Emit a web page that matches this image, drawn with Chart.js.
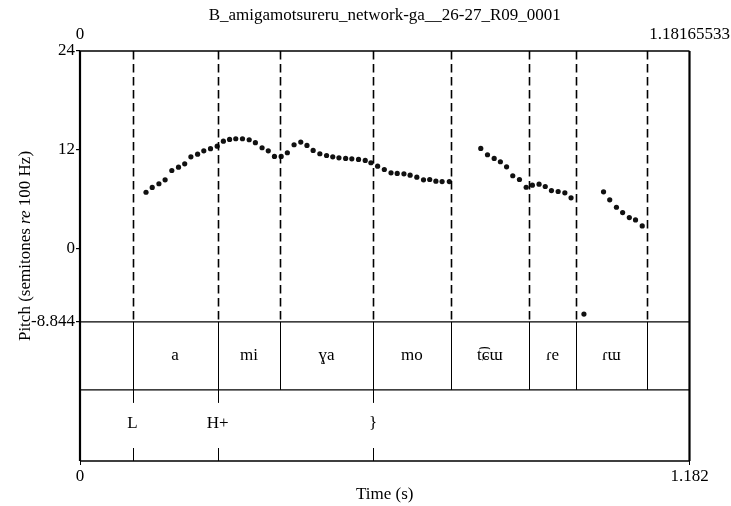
<!DOCTYPE html>
<html>
<head>
<meta charset="utf-8">
<script src="https://cdn.jsdelivr.net/npm/chart.js@4.4.0/dist/chart.umd.min.js"></script>
<style>
  html, body { margin: 0; padding: 0; background: #fff; }
</style>
</head>
<body>
<canvas id="pitch" width="731" height="506"></canvas>
<script>
const chartTitle = "B_amigamotsureru_network-ga__26-27_R09_0001"
const tEnd = 1.18165533

// pitch track (s, semitones re 100 Hz)
const pitchTimes = [
  0.128, 0.140, 0.153, 0.165, 0.178, 0.191, 0.203, 0.215, 0.228, 0.240, 0.253, 0.266,
  0.278, 0.290, 0.302, 0.315, 0.328, 0.340, 0.353, 0.365, 0.377, 0.390, 0.402,
  0.415, 0.428, 0.440, 0.452, 0.465, 0.478, 0.490, 0.502, 0.515, 0.527, 0.540, 0.553,
  0.564, 0.577, 0.590, 0.603, 0.615, 0.628, 0.640, 0.653, 0.666, 0.678, 0.690, 0.702, 0.716,
  0.777, 0.790, 0.803, 0.815, 0.827, 0.839, 0.852, 0.865, 0.877, 0.890, 0.902, 0.914,
  0.927, 0.940, 0.952, 0.977,
  1.015, 1.027, 1.040, 1.052, 1.065, 1.077, 1.090
]
const pitchValues = [
  6.87, 7.45, 7.90, 8.38, 9.51, 9.91, 10.32, 11.17, 11.49, 11.90, 12.15, 12.46,
  13.07, 13.28, 13.36, 13.36, 13.24, 12.88, 12.27, 11.90, 11.21, 11.21, 11.66,
  12.63, 12.95, 12.55, 11.94, 11.54, 11.33, 11.17, 11.05, 10.97, 10.93, 10.85, 10.73,
  10.45, 10.03, 9.63, 9.23, 9.15, 9.11, 8.94, 8.70, 8.38, 8.42, 8.21, 8.17, 8.17,
  12.18, 11.42, 10.97, 10.57, 9.96, 8.87, 8.42, 7.48, 7.73, 7.85, 7.57, 7.08,
  6.96, 6.80, 6.19, -7.90,
  6.92, 5.95, 5.05, 4.41, 3.80, 3.52, 2.79
]

const yTicks = [24, 12, 0, -8.844]
const yTickLabels = ["24", "12", "0", "-8.844"]
const xTopLabels = ["0", "1.18165533"]
const xBottomLabels = ["0", "1.182"]

// text grid
const tier1Bounds = [0.1018, 0.2670, 0.3883, 0.5680, 0.7187, 0.8705, 0.9616, 1.0987]
const tier1Labels = ["", "a", "mi", "ɣa", "mo", "t͡ɕɯ", "ɾe", "ɾɯ", ""]
const tier2Times = [0.1018, 0.2670, 0.5680]
const tier2Labels = ["L", "H+", "}"]

// vertical extent of the pitch panel and the two tiers, in y-scale units
const pitchMax = 24
const pitchMin = -8.844
const tierLine = -17.1
const gridBottom = -25.72

const serif = "'Liberation Serif', 'DejaVu Serif', 'Times New Roman', serif"
Chart.defaults.font.family = serif
Chart.defaults.font.size = 17
Chart.defaults.color = "#000"

const textGrid = {
  id: "textGrid",
  afterDatasetsDraw(chart) {
    const { ctx, chartArea: a, scales } = chart
    const x = scales.x, y = scales.y
    const yPitch = y.getPixelForValue(pitchMin)
    const yTier = y.getPixelForValue(tierLine)
    const yBot = y.getPixelForValue(gridBottom)
    ctx.save()
    ctx.strokeStyle = "#000"

    // dashed boundaries over the pitch panel
    ctx.lineWidth = 1.6
    ctx.setLineDash([8.5, 4.5])
    tier1Bounds.forEach(t => {
      const px = Math.round(x.getPixelForValue(t)) + 0.5
      ctx.beginPath()
      ctx.moveTo(px, a.top)
      ctx.lineTo(px, yPitch)
      ctx.stroke()
    })
    ctx.setLineDash([])

    // tier 1 interval boundaries
    ctx.lineWidth = 1
    tier1Bounds.forEach(t => {
      const px = Math.round(x.getPixelForValue(t)) + 0.5
      ctx.beginPath()
      ctx.moveTo(px, yPitch)
      ctx.lineTo(px, yTier)
      ctx.stroke()
    })

    // tier 2 point marks
    tier2Times.forEach(t => {
      const px = Math.round(x.getPixelForValue(t)) + 0.5
      ctx.beginPath()
      ctx.moveTo(px, yTier)
      ctx.lineTo(px, yTier + 13)
      ctx.moveTo(px, yBot - 13)
      ctx.lineTo(px, yBot)
      ctx.stroke()
    })

    // horizontal separators
    ctx.lineWidth = 1.4
    ;[yPitch, yTier].forEach(py => {
      ctx.beginPath()
      ctx.moveTo(a.left, py)
      ctx.lineTo(a.right, py)
      ctx.stroke()
    })

    // outer box
    ctx.beginPath()
    ctx.moveTo(a.left, a.top)
    ctx.lineTo(a.right, a.top)
    ctx.moveTo(a.left, a.bottom)
    ctx.lineTo(a.right, a.bottom)
    ctx.stroke()
    ctx.lineWidth = 2.2
    ctx.beginPath()
    ctx.moveTo(a.left, a.top)
    ctx.lineTo(a.left, a.bottom)
    ctx.moveTo(a.right, a.top)
    ctx.lineTo(a.right, a.bottom)
    ctx.stroke()

    // labels
    ctx.fillStyle = "#000"
    ctx.font = "17px " + serif
    ctx.textAlign = "center"
    ctx.textBaseline = "middle"
    const edges = [0, ...tier1Bounds, tEnd]
    tier1Labels.forEach((lab, i) => {
      if (!lab) return
      const cx = (x.getPixelForValue(edges[i]) + x.getPixelForValue(edges[i + 1])) / 2
      ctx.fillText(lab, cx, (yPitch + yTier) / 2)
    })
    tier2Labels.forEach((lab, i) => {
      ctx.fillText(lab, x.getPixelForValue(tier2Times[i]), (yTier + yBot) / 2 - 2)
    })

    // y axis title with italic "re"
    const parts = [["Pitch (semitones ", ""], ["re", "italic "], [" 100 Hz)", ""]]
    ctx.translate(26, (a.top + a.bottom) / 2 - 10)
    ctx.rotate(-Math.PI / 2)
    ctx.textAlign = "left"
    let total = 0
    parts.forEach(p => { ctx.font = p[1] + "17px " + serif; total += ctx.measureText(p[0]).width })
    let cx = -total / 2
    parts.forEach(p => {
      ctx.font = p[1] + "17px " + serif
      ctx.fillText(p[0], cx, 0)
      cx += ctx.measureText(p[0]).width
    })
    ctx.restore()
  }
}

const points = pitchTimes.map((t, i) => ({ x: t, y: pitchValues[i] }))

new Chart(document.getElementById("pitch"), {
  type: "scatter",
  data: {
    datasets: [{
      data: points,
      pointRadius: 2.6,
      pointBackgroundColor: "#111",
      pointBorderWidth: 0,
      showLine: false,
    }],
  },
  options: {
    responsive: false,
    devicePixelRatio: 1,
    animation: false,
    layout: { padding: { left: 0, right: 41.5, top: 0, bottom: 0 } },
    plugins: {
      legend: { display: false },
      tooltip: { enabled: false },
      title: {
        display: true,
        fullSize: false,
        text: chartTitle,
        font: { size: 17, weight: "normal" },
        color: "#000",
        padding: { top: 5, bottom: 0 },
      },
    },
    scales: {
      x: {
        type: "linear",
        position: "bottom",
        min: 0,
        max: tEnd,
        afterBuildTicks: s => { s.ticks = [{ value: 0 }, { value: tEnd }] },
        afterFit: s => { s.height = 45; s.paddingLeft = 0; s.paddingRight = 0 },
        ticks: { autoSkip: false, maxRotation: 0, padding: 1, callback: (v, i) => xBottomLabels[i] },
        grid: { drawOnChartArea: false, tickLength: 4, color: "#000" },
        border: { display: false },
        title: { display: true, text: "Time (s)", font: { size: 17 }, padding: { top: 0, bottom: 1 } },
      },
      xTop: {
        type: "linear",
        position: "top",
        min: 0,
        max: tEnd,
        afterBuildTicks: s => { s.ticks = [{ value: 0 }, { value: tEnd }] },
        afterFit: s => { s.height = 25.6; s.paddingLeft = 0; s.paddingRight = 0 },
        ticks: { autoSkip: false, maxRotation: 0, padding: 6, callback: (v, i) => xTopLabels[i] },
        grid: { display: false, drawTicks: false },
        border: { display: false },
      },
      y: {
        type: "linear",
        min: gridBottom,
        max: pitchMax,
        afterBuildTicks: s => { s.ticks = yTicks.map(v => ({ value: v })) },
        afterFit: s => { s.width = 80; s.paddingTop = 0; s.paddingBottom = 0 },
        ticks: { autoSkip: false, padding: 1, callback: (v, i) => yTickLabels[i] },
        grid: { drawOnChartArea: false, tickLength: 4, color: "#000", lineWidth: 1.2 },
        border: { display: false },
      },
    },
  },
  plugins: [textGrid],
})
</script>
</body>
</html>
